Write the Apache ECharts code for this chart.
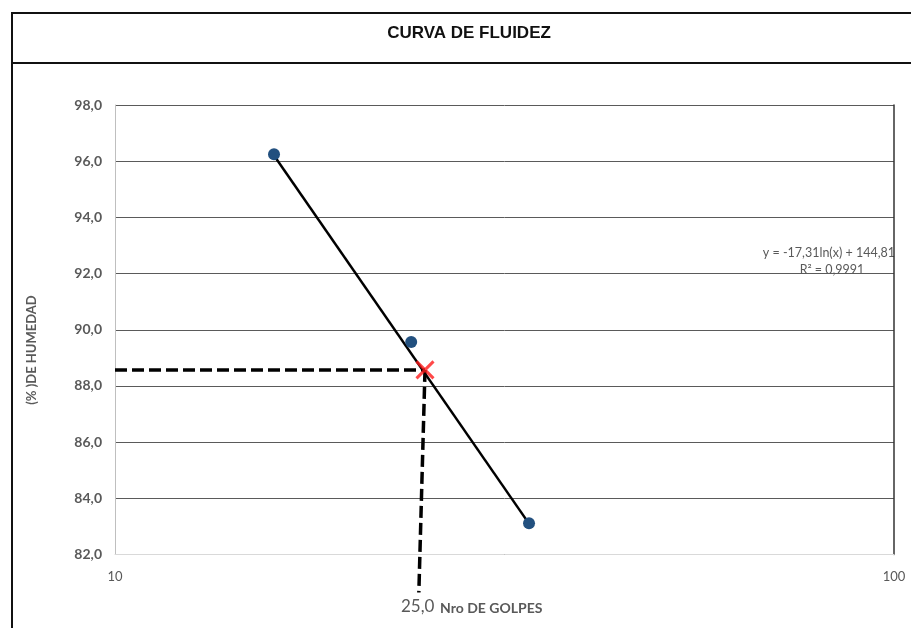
<!DOCTYPE html>
<html>
<head>
<meta charset="utf-8">
<script src="https://cdn.jsdelivr.net/npm/echarts@6/dist/echarts.min.js"></script>
<style>
  html, body { margin: 0; padding: 0; background: #fff; }
  #chart { width: 911px; height: 628px; }
</style>
</head>
<body>
<div id="chart"></div>
<script>
    // puntos del ensayo (golpes, % humedad)
    const golpes = [16.0, 24.0, 34.0];
    const humedad = [96.25, 89.56, 83.11];
    // linea de tendencia
    const tendenciaX = [16.0, 34.0];
    const tendenciaY = [96.2, 83.1];
    // punto a 25 golpes
    const punto25 = [25.0, 88.57];
    // guias punteadas
    const guiaH = [[10, 88.57], [25.0, 88.57]];
    const guiaV = [[25.0, 88.57], [24.55, 80.65]];

    const gray = '#595959';
    let chart = echarts.init(document.getElementById('chart'));

    let puntos = golpes.map(function (g, i) { return [g, humedad[i]]; });
    let tendencia = tendenciaX.map(function (g, i) { return [g, tendenciaY[i]]; });

    chart.setOption({
        animation: false,
        textStyle: { fontFamily: 'Lato' },
        grid: { left: 115, right: 17, top: 105, bottom: 73.5 },
        xAxis: {
            type: 'log',
            logBase: 10,
            min: 10,
            max: 100,
            axisLine: { show: true, lineStyle: { color: '#d9d9d9', width: 1 } },
            axisTick: { show: false },
            splitLine: { show: false },
            minorSplitLine: { show: false },
            axisLabel: { color: gray, fontSize: 13, margin: 16, fontFamily: 'Lato' }
        },
        yAxis: [{
            type: 'value',
            min: 82,
            max: 98,
            interval: 2,
            axisLine: { show: true, lineStyle: { color: '#bfbfbf', width: 1 } },
            axisTick: { show: false },
            splitLine: { show: true, lineStyle: { color: '#5a5a5a', width: 1 } },
            axisLabel: {
                color: gray, fontSize: 14, fontWeight: 'bold', margin: 13, fontFamily: 'Lato',
                formatter: function (v) { return v.toFixed(1).replace('.', ','); }
            }
        }, {
            type: 'value',
            position: 'right',
            min: 82,
            max: 98,
            interval: 2,
            axisLine: { show: true, lineStyle: { color: '#333', width: 1.5 } },
            axisTick: { show: false },
            axisLabel: { show: false },
            splitLine: { show: false }
        }],
        series: [
            {
                type: 'line',
                data: guiaH,
                symbol: 'none',
                clip: false,
                lineStyle: { color: '#000', width: 3.5, type: [12, 5] },
                z: 3
            },
            {
                type: 'line',
                data: guiaV,
                symbol: 'none',
                clip: false,
                lineStyle: { color: '#000', width: 3.5, type: [12, 5] },
                z: 3
            },
            {
                type: 'line',
                data: tendencia,
                symbol: 'none',
                lineStyle: { color: '#000', width: 2.5 },
                z: 4
            },
            {
                type: 'scatter',
                data: puntos,
                symbolSize: 12,
                itemStyle: { color: '#22507f', opacity: 1 },
                z: 5
            },
            {
                type: 'scatter',
                data: [punto25],
                symbol: 'path://M0,0L10,10M10,0L0,10',
                symbolSize: 17,
                itemStyle: { color: 'none', borderColor: '#ff1a1a', borderWidth: 3 },
                z: 6
            }
        ],
        graphic: [
            {
                type: 'rect',
                shape: { x: 12, y: 13, width: 1000, height: 700 },
                style: { fill: 'none', stroke: '#111', lineWidth: 2 },
                silent: true
            },
            {
                type: 'line',
                shape: { x1: 12, y1: 63, x2: 1000, y2: 63 },
                style: { stroke: '#111', lineWidth: 2 },
                silent: true
            },
            {
                type: 'text',
                x: 469, y: 33,
                style: {
                    text: 'CURVA DE FLUIDEZ', fill: '#111', font: 'bold 17px "Liberation Sans"',
                    align: 'center', verticalAlign: 'middle'
                }
            },
            {
                type: 'text',
                x: 32, y: 350,
                rotation: Math.PI / 2,
                style: {
                    text: '(% )DE HUMEDAD', fill: gray, font: 'bold 13px Lato',
                    align: 'center', verticalAlign: 'middle'
                }
            },
            {
                type: 'text',
                x: 895, y: 253,
                style: {
                    text: 'y = -17,31ln(x) + 144,81', fill: gray, font: '12.5px Lato',
                    align: 'right', verticalAlign: 'middle'
                }
            },
            {
                type: 'text',
                x: 832, y: 270,
                style: {
                    text: 'R² = 0,9991', fill: gray, font: '12.5px Lato',
                    align: 'center', verticalAlign: 'middle'
                }
            },
            {
                type: 'text',
                x: 401, y: 607,
                style: {
                    text: '25,0', fill: gray, font: '17px Lato',
                    align: 'left', verticalAlign: 'middle'
                }
            },
            {
                type: 'text',
                x: 440, y: 608,
                style: {
                    text: 'Nro DE GOLPES', fill: gray, font: 'bold 14px Lato',
                    align: 'left', verticalAlign: 'middle'
                }
            }
        ]
    });
</script>
</body>
</html>
